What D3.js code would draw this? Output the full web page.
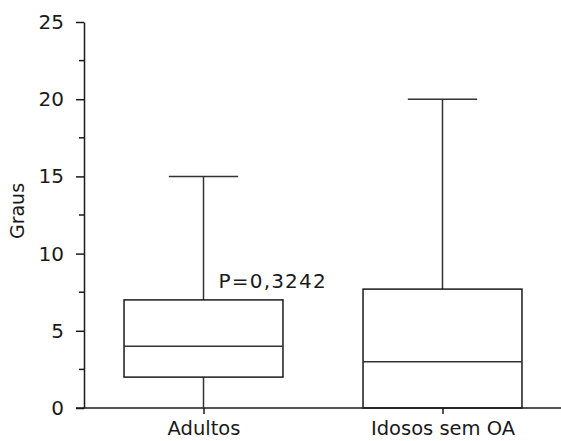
<!DOCTYPE html>
<html>
<head>
<meta charset="utf-8">
<script src="https://cdn.jsdelivr.net/npm/d3@7"></script>
<style>
  body { margin: 0; background: #fff; }
  svg { display: block; font-family: "DejaVu Sans", sans-serif; }
</style>
</head>
<body>
<svg id="chart" width="561" height="441"></svg>
<script>
// Data
const categories = ["Adultos", "Idosos sem OA"];
const mins = [0, 0];
const q1s = [2, 0];
const medians = [4, 3];
const q3s = [7, 7.7];
const maxs = [15, 20];
const yTicks = [0, 5, 10, 15, 20, 25];
const yMinorTicks = [2.5, 7.5, 12.5, 17.5, 22.5];
const pLabel = "P=0,3242";

const svg = d3.select("#chart");
const ink = "#1a1a1a";

// Scales
const y = d3.scaleLinear().domain([0, 25]).range([408, 22]);
const x = d3.scalePoint().domain(categories).range([84, 562]).padding(0.5);
const step = x.step();
const boxW = step * 0.665;
const capW = step * 0.29;

// Y axis
const yAxis = d3.axisLeft(y).tickValues(yTicks).tickSize(8).tickPadding(12).tickSizeOuter(0);
const gy = svg.append("g").attr("transform", "translate(84,0)").call(yAxis);
gy.select(".domain").attr("stroke", ink).attr("stroke-width", 1.5);
gy.selectAll(".tick line").attr("stroke", ink).attr("stroke-width", 1.5);
gy.selectAll(".tick text").attr("font-size", 20).attr("fill", ink)
  .attr("font-family", "DejaVu Sans, sans-serif");

// minor ticks
svg.append("g").selectAll("line")
  .data(yMinorTicks)
  .join("line")
    .attr("x1", 79).attr("x2", 84)
    .attr("y1", d => y(d)).attr("y2", d => y(d))
    .attr("stroke", ink).attr("stroke-width", 1.5);

// X axis
const xAxis = d3.axisBottom(x).tickSize(6).tickPadding(7).tickSizeOuter(0);
const gx = svg.append("g").attr("transform", `translate(0,${y(0)})`).call(xAxis);
gx.select(".domain").attr("d", `M76,0H561`).attr("stroke", ink).attr("stroke-width", 1.5);
gx.selectAll(".tick line").attr("stroke", ink).attr("stroke-width", 1.5);
gx.selectAll(".tick text").attr("font-size", 19.5).attr("fill", ink)
  .attr("font-family", "DejaVu Sans, sans-serif");

// Y label
svg.append("text")
  .attr("transform", `translate(24,${(y(0) + y(25)) / 2 - 4}) rotate(-90)`)
  .attr("text-anchor", "middle")
  .attr("font-size", 19)
  .attr("fill", ink)
  .text("Graus");

// Boxes
const boxes = svg.append("g")
  .selectAll("g")
  .data(categories.map((c, i) => ({c, min: mins[i], q1: q1s[i], med: medians[i], q3: q3s[i], max: maxs[i]})))
  .join("g")
    .attr("transform", d => `translate(${x(d.c)},0)`);

// whiskers
boxes.append("line")
  .attr("y1", d => y(d.max)).attr("y2", d => y(d.q3))
  .attr("stroke", "#333").attr("stroke-width", 1.5);
boxes.append("line")
  .attr("y1", d => y(d.q1)).attr("y2", d => y(d.min))
  .attr("stroke", "#333").attr("stroke-width", 1.5);
boxes.append("line")
  .attr("x1", -capW / 2).attr("x2", capW / 2)
  .attr("y1", d => y(d.max)).attr("y2", d => y(d.max))
  .attr("stroke", "#333").attr("stroke-width", 1.5);

boxes.append("rect")
  .attr("x", -boxW / 2).attr("width", boxW)
  .attr("y", d => y(d.q3))
  .attr("height", d => y(d.q1) - y(d.q3))
  .attr("fill", "none").attr("stroke", ink).attr("stroke-width", 1.5);

boxes.append("line")
  .attr("x1", -boxW / 2).attr("x2", boxW / 2)
  .attr("y1", d => y(d.med)).attr("y2", d => y(d.med))
  .attr("stroke", "#333").attr("stroke-width", 1.5);

// P value annotation
svg.append("text")
  .attr("x", x(categories[0]) + 15)
  .attr("y", y(q3s[0]) - 12)
  .attr("font-size", 20)
  .attr("letter-spacing", 1.2)
  .attr("fill", ink)
  .text(pLabel);
</script>
</body>
</html>
